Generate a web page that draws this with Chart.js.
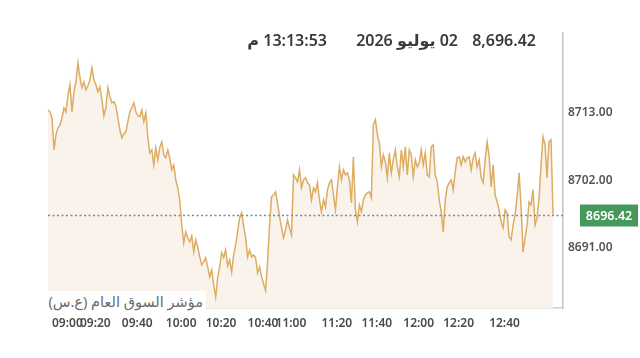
<!DOCTYPE html>
<html lang="ar">
<head>
<meta charset="utf-8">
<script src="https://cdn.jsdelivr.net/npm/chart.js@4/dist/chart.umd.min.js"></script>
<style>
  html, body { margin: 0; padding: 0; background: #ffffff; }
  #wrap { position: relative; width: 640px; height: 358px; overflow: hidden; }
  canvas { position: absolute; left: 0; top: 0; }
  .hdr { position: absolute; top: 29px; font-family: "Noto Sans", "DejaVu Sans", sans-serif; font-size: 16px; font-weight: 600; color: #3a3a3a; line-height: 22px; white-space: nowrap; }
  #foot { position: absolute; top: 291px; right: 434px; height: 20px; line-height: 20px; padding: 0 3px 0 6px; background: #ffffff; font-family: "Noto Sans", "DejaVu Sans", sans-serif; font-size: 14.5px; color: #6a6a6a; white-space: nowrap; }
</style>
</head>
<body>
<div id="wrap">
  <canvas id="c" width="640" height="358"></canvas>
  <span class="hdr" id="hPrice" style="right:104px">8,696.42</span>
  <span class="hdr" id="hDate" dir="rtl" style="right:182px">02 يوليو 2026</span>
  <span class="hdr" id="hTime" dir="rtl" style="right:313px">13:13:53 م</span>
  <span id="foot" dir="rtl">مؤشر السوق العام (ع.س)</span>
</div>
<script>
// ---- data (index level, one sample per minute-slot) ----
const lastValue = 8696.42;
const yTicks = [8691.00, 8702.00, 8713.00];
const tickLabels = ['09:00','09:20','09:40','10:00','10:20','10:40','11:00','11:20','11:40','12:00','12:20','12:40'];

const preOpen = [8713.49, 8713.16];
const s0900 = [8712.19, 8706.97, 8709.41, 8710.56, 8711.04, 8712.19, 8713.82, 8713.16, 8715.93, 8717.56, 8713.16, 8716.42, 8718.05, 8721.15];
const s0920 = [8718.71, 8717.08, 8718.05, 8716.75, 8717.40, 8718.38, 8720.34, 8718.38, 8717.56, 8716.42, 8717.24, 8715.12, 8712.51, 8713.82, 8717.08, 8715.61, 8714.63, 8714.79, 8714.14, 8712.19, 8710.23];
const s0940 = [8708.93, 8709.58, 8709.90, 8711.53, 8713.16, 8713.82, 8714.63, 8713.16, 8712.51, 8712.35, 8713.49, 8711.53, 8713.00, 8709.09, 8706.48, 8706.97, 8704.52, 8707.30, 8705.34, 8707.30, 8708.27, 8706.15];
const s1000 = [8705.67, 8706.97, 8705.67, 8703.71, 8704.52, 8702.08, 8700.78, 8698.82, 8694.74, 8691.81, 8693.60, 8692.63, 8691.97, 8692.95, 8690.34, 8692.30, 8691.16, 8689.53, 8688.22, 8688.71];
const s1020 = [8689.37, 8687.90, 8686.27, 8687.41, 8684.96, 8683.00, 8686.10, 8687.90, 8690.20, 8689.40, 8690.67, 8688.06, 8689.04, 8687.08, 8689.85, 8691.48, 8693.60, 8695.90, 8696.70, 8694.58, 8692.63];
const s1040 = [8689.53, 8690.67, 8689.53, 8689.85, 8689.37, 8686.92, 8687.90, 8686.27, 8685.13, 8684.00, 8688.71, 8694.74, 8699.30, 8699.63];
const s1100 = [8700.12, 8698.33, 8696.05, 8694.26, 8692.63, 8693.93, 8695.56, 8694.26, 8693.11, 8702.89, 8702.41, 8701.75, 8703.71, 8700.78, 8702.08, 8702.41, 8701.59, 8701.26, 8698.82, 8700.78, 8700.12, 8701.59, 8698.82];
const s1120 = [8696.86, 8698.82, 8697.68, 8700.45, 8701.59, 8702.08, 8699.63, 8697.19, 8700.94, 8704.20, 8702.08, 8703.71, 8702.89, 8703.22, 8702.08, 8698.33, 8705.83, 8697.19, 8695.23, 8698.00];
const s1140 = [8696.86, 8698.82, 8699.63, 8699.96, 8700.12, 8699.14, 8711.04, 8711.86, 8709.41, 8708.11, 8704.20, 8706.15, 8705.01, 8702.41, 8706.48, 8703.22, 8705.34, 8706.97, 8704.20, 8702.57, 8706.97];
const s1200 = [8704.20, 8707.46, 8702.89, 8706.97, 8706.15, 8702.57, 8705.34, 8704.20, 8704.85, 8706.97, 8704.52, 8706.48, 8702.89, 8702.57, 8707.46, 8707.78, 8702.89, 8701.75, 8698.82, 8696.86];
const s1220 = [8693.60, 8698.82, 8700.94, 8701.59, 8702.08, 8700.45, 8703.38, 8705.67, 8705.83, 8704.52, 8705.83, 8705.01, 8705.67, 8705.83, 8703.71, 8705.67, 8706.48, 8704.20, 8705.34, 8702.41, 8701.59, 8705.34, 8708.27];
const s1240 = [8705.83, 8700.94, 8704.52, 8699.63, 8698.49, 8697.19, 8695.23, 8694.26, 8697.19, 8696.70, 8692.79, 8692.30, 8694.74, 8696.37, 8699.31, 8703.22, 8697.68, 8690.34, 8692.63, 8694.74, 8698.49, 8698.00, 8700.45, 8694.74, 8695.89, 8699.14, 8704.52, 8709.09, 8707.78, 8702.41, 8708.27, 8708.60, 8696.42];
const remainingSlots = 5; // session minutes not yet traded

// ---- build table for the library ----
const segments = [s0900, s0920, s0940, s1000, s1020, s1040, s1100, s1120, s1140, s1200, s1220, s1240];
const values = [];
const labels = [];
preOpen.forEach(v => { values.push(v); labels.push(''); });
segments.forEach((seg, k) => {
  seg.forEach((v, j) => { values.push(v); labels.push(j === 0 ? tickLabels[k] : ''); });
});
for (let i = 0; i < remainingSlots; i++) labels.push('');

const refLine = {
  id: 'refLine',
  afterDatasetsDraw(chart) {
    const {ctx, chartArea, scales} = chart;
    const y = Math.round(scales.y.getPixelForValue(lastValue)) + 0.5;
    ctx.save();
    ctx.strokeStyle = '#7f8797';
    ctx.lineWidth = 1.4;
    ctx.setLineDash([2, 2.5]);
    ctx.beginPath();
    ctx.moveTo(chartArea.left, y);
    ctx.lineTo(chartArea.right, y);
    ctx.stroke();
    ctx.setLineDash([]);
    // price badge
    ctx.fillStyle = '#46995c';
    ctx.fillRect(580, y - 11, 58, 22);
    ctx.fillStyle = '#ffffff';
    ctx.font = '600 12.5px "Noto Sans", "DejaVu Sans", sans-serif';
    ctx.textAlign = 'center';
    ctx.textBaseline = 'middle';
    ctx.fillText(lastValue.toFixed(2), 609, y + 0.5);
    ctx.restore();
  }
};

new Chart(document.getElementById('c'), {
  type: 'line',
  data: {
    labels: labels,
    datasets: [{
      data: values,
      borderColor: '#dcad62',
      borderWidth: 1.5,
      backgroundColor: '#f9f3ec',
      fill: 'start',
      pointRadius: 0,
      tension: 0
    }]
  },
  options: {
    responsive: false,
    animation: false,
    events: [],
    layout: { padding: { left: 48, top: 33, right: 0, bottom: 0 } },
    plugins: { legend: { display: false }, tooltip: { enabled: false } },
    scales: {
      x: {
        type: 'category',
        offset: false,
        grid: { display: false, drawTicks: false },
        border: { display: true, color: '#cfcfcf', width: 1.5 },
        afterFit(scale) { scale.height = 50; },
        ticks: {
          autoSkip: false,
          maxRotation: 0,
          minRotation: 0,
          align: 'start',
          padding: 8,
          color: '#4a4a4a',
          font: { family: '"Noto Sans", "DejaVu Sans", sans-serif', size: 12, weight: '600' },
          callback(val, i) { return labels[i]; }
        }
      },
      y: {
        position: 'right',
        min: 8681.2,
        max: 8726.0,
        grid: { display: false, drawTicks: false },
        border: { display: true, color: '#c4c4c4', width: 1.5 },
        afterFit(scale) { scale.width = 77; },
        afterBuildTicks(scale) { scale.ticks = yTicks.map(v => ({ value: v })); },
        ticks: {
          padding: 5,
          color: '#555555',
          font: { family: '"Noto Sans", "DejaVu Sans", sans-serif', size: 12, weight: '600' },
          callback(v) { return Number(v).toFixed(2); }
        }
      }
    }
  },
  plugins: [refLine]
});
</script>
</body>
</html>
